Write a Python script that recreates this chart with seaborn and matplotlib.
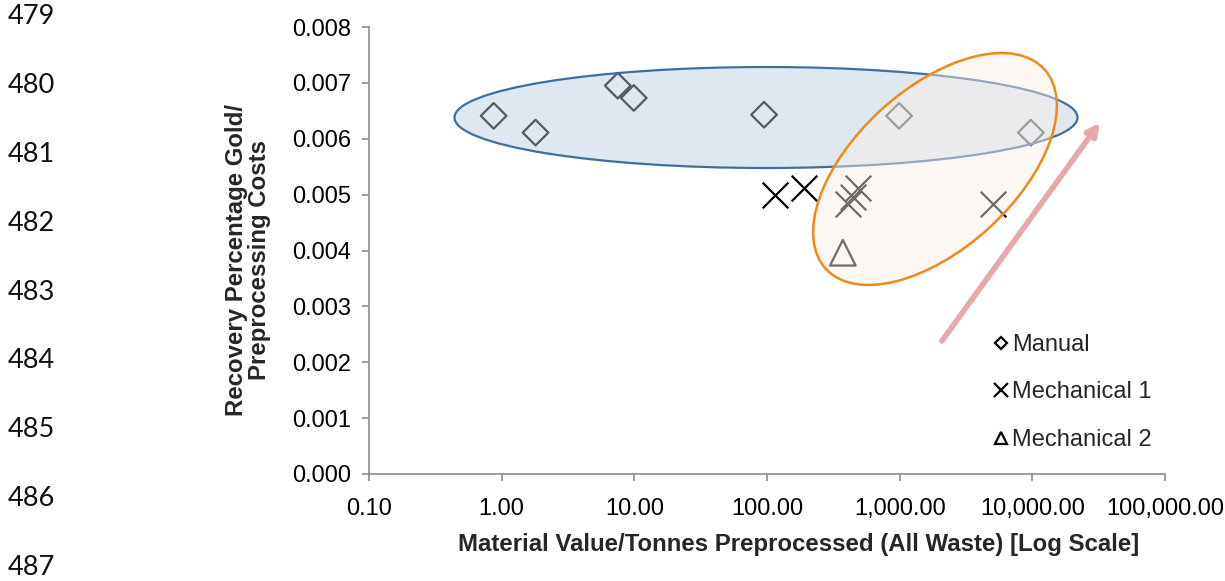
import numpy as np
import pandas as pd
import matplotlib
matplotlib.use('Agg')
import matplotlib.pyplot as plt
import matplotlib.transforms as mtransforms
from matplotlib.patches import Ellipse
from matplotlib.lines import Line2D
from matplotlib.ticker import FuncFormatter, FixedLocator, NullLocator
import seaborn as sns

# ---- data ----
line_numbers = [479, 480, 481, 482, 483, 484, 485, 486, 487]

manual_x = [0.87, 1.8, 7.5, 9.9, 95, 990, 9750]
manual_y = [0.00641, 0.00611, 0.00695, 0.00673, 0.00643, 0.00641, 0.00611]

mech1_x = [115, 190, 484, 444, 407, 5040]
mech1_y = [0.00500, 0.00511, 0.00511, 0.00495, 0.00484, 0.00484]

mech2_x = [373]
mech2_y = [0.00396]

series_labels = ['Manual', 'Mechanical 1', 'Mechanical 2']
x_ticks = [0.1, 1, 10, 100, 1000, 10000, 100000]
y_ticks = [0.000, 0.001, 0.002, 0.003, 0.004, 0.005, 0.006, 0.007, 0.008]

x_label = 'Material Value/Tonnes Preprocessed (All Waste) [Log Scale]'
y_label = 'Recovery Percentage Gold/\nPreprocessing Costs'

# trend arrow (data coords)
arrow_start = (2080, 0.00238)
arrow_end = (32300, 0.00629)

# ---- style ----
sns.set_theme(style='white')
plt.rcParams['font.family'] = ['Liberation Sans', 'DejaVu Sans']

W, H = 1225, 581
fig = plt.figure(figsize=(W / 100, H / 100), dpi=100)
ax = fig.add_axes([369 / W, 107 / H, 796 / W, 447 / H])

df_manual = pd.DataFrame({'x': manual_x, 'y': manual_y})
df_m1 = pd.DataFrame({'x': mech1_x, 'y': mech1_y})
df_m2 = pd.DataFrame({'x': mech2_x, 'y': mech2_y})

sns.scatterplot(data=df_manual, x='x', y='y', marker='D', s=170, facecolor='none',
                edgecolor='black', linewidth=1.6, ax=ax, zorder=2, legend=False)
sns.scatterplot(data=df_m1, x='x', y='y', marker='x', s=340, color='black',
                linewidth=1.6, ax=ax, zorder=2, legend=False)
sns.scatterplot(data=df_m2, x='x', y='y', marker='^', s=340, facecolor='none',
                edgecolor='black', linewidth=1.6, ax=ax, zorder=2, legend=False)

ax.set_xscale('log')
ax.set_xlim(x_ticks[0], x_ticks[-1])
ax.set_ylim(y_ticks[0], y_ticks[-1])
ax.xaxis.set_major_locator(FixedLocator(x_ticks))
ax.xaxis.set_minor_locator(NullLocator())
ax.yaxis.set_major_locator(FixedLocator(y_ticks))
ax.xaxis.set_major_formatter(FuncFormatter(lambda v, p: f'{v:,.2f}'))
ax.yaxis.set_major_formatter(FuncFormatter(lambda v, p: f'{v:.3f}'))

for side in ['top', 'right']:
    ax.spines[side].set_visible(False)
for side in ['left', 'bottom']:
    ax.spines[side].set_color('#8c8c8c')
    ax.spines[side].set_linewidth(1.2)

ax.tick_params(axis='both', which='major', bottom=True, left=True, direction='out',
               length=5, width=1.2, color='#8c8c8c', labelsize=17, labelcolor='black')
ax.tick_params(axis='x', pad=12)
ax.tick_params(axis='y', pad=8)

ax.set_xlabel(x_label, fontsize=17.3, fontweight='bold')
ax.set_ylabel(y_label, fontsize=17.3, fontweight='bold', linespacing=1.0)
ax.xaxis.set_label_coords((799 - 369) / 796, (474 - 533) / 447)
ax.yaxis.set_label_coords((271 - 369) / 796, (474 - 260) / 447)


def px_ellipse(cx, cy, w, h, angle, **kw):
    tr = mtransforms.ScaledTranslation(cx, cy, ax.transAxes)
    e = Ellipse((0, 0), w, h, angle=angle, transform=tr, **kw)
    ax.add_patch(e)
    return e


# blue group ellipse (pixel sizes)
px_ellipse((766 - 369) / 796, (474 - 117.5) / 447, 623, 101, 0,
           facecolor=(184 / 255, 204 / 255, 224 / 255, 0.45),
           edgecolor='#3f6fa0', linewidth=1.6, zorder=3, clip_on=False)
# orange group ellipse
px_ellipse((935 - 369) / 796, (474 - 169) / 447, 296, 160, 42.4,
           facecolor=(251 / 255, 238 / 255, 230 / 255, 0.45),
           edgecolor='#ee8a1c', linewidth=1.8, zorder=4, clip_on=False)

ax.annotate('', xy=arrow_end, xytext=arrow_start,
            arrowprops=dict(arrowstyle='-|>', lw=4, color='#e6a8a8',
                            mutation_scale=18, shrinkA=0, shrinkB=0),
            zorder=5)

handles = [
    Line2D([], [], marker='D', linestyle='none', markersize=6.5, markerfacecolor='none',
           markeredgecolor='black', markeredgewidth=1.6),
    Line2D([], [], marker='x', linestyle='none', markersize=10, color='black',
           markeredgewidth=1.6),
    Line2D([], [], marker='^', linestyle='none', markersize=9, markerfacecolor='none',
           markeredgecolor='black', markeredgewidth=1.6),
]
leg = ax.legend(handles, series_labels, loc='upper left',
                bbox_to_anchor=((994 - 369) / 796, (474 - 334) / 447),
                frameon=False, fontsize=17, handlelength=0.6, handletextpad=0.15,
                labelspacing=1.08, borderaxespad=0, borderpad=0)

# document line numbers
for i, n in enumerate(line_numbers):
    fig.text(8 / W, 1 - (17 + i * 68.8) / H, str(n), fontsize=19.5, family=['Lato', 'DejaVu Sans'],
             color='#111111', va='center', ha='left')

fig.savefig('out.png', dpi=100)
